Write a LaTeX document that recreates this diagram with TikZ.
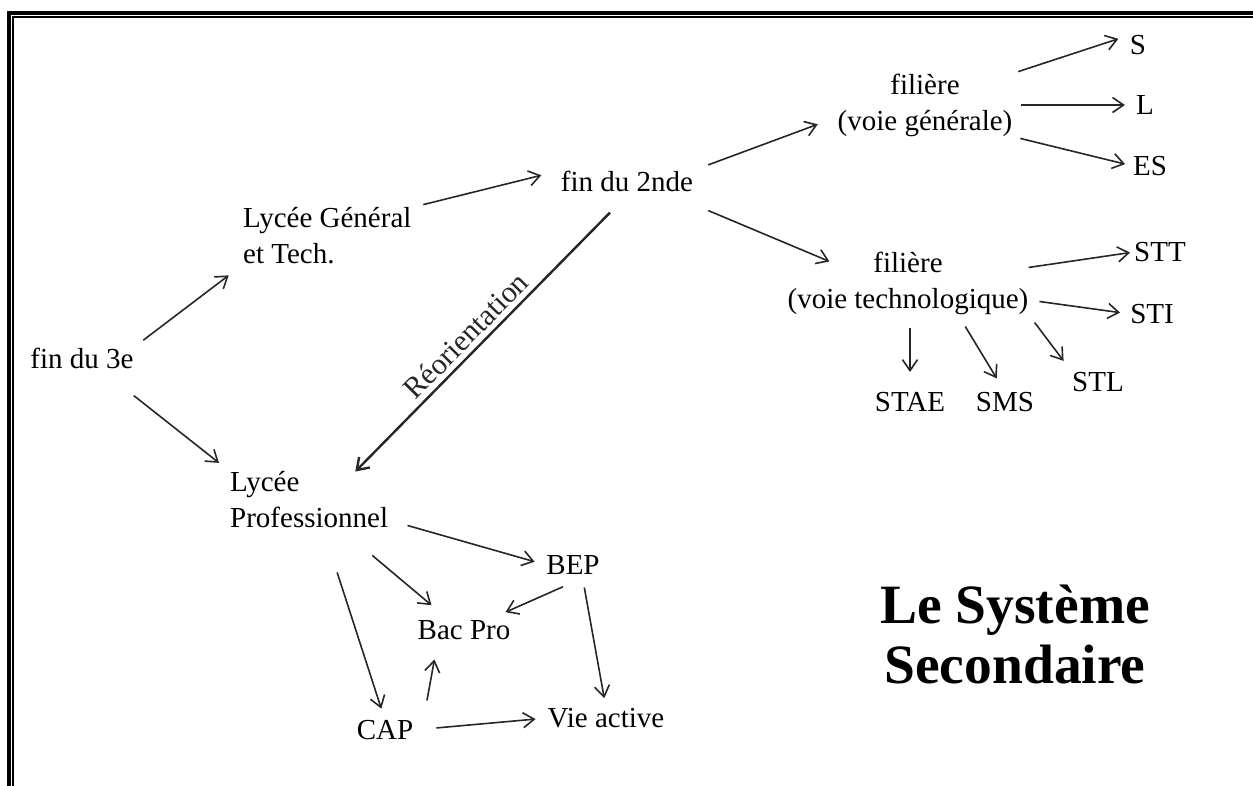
\documentclass[tikz,border=0pt]{standalone}
\usepackage{fontspec}
\setmainfont{Liberation Serif}
\usepackage{tikz}
\usetikzlibrary{positioning,arrows.meta}

\begin{document}
\begin{tikzpicture}[x=1pt,y=1pt,
    txt/.style={inner sep=0pt,font=\fontsize{29}{36}\selectfont},
    arr/.style={-{Straight Barb[length=11pt,width=15pt]},line width=1.6pt,black!85},
    reo/.style={arr,line width=2.4pt}]
  \useasboundingbox (0,0) rectangle (1253,-786);
  % frame (left and top only)
  \fill (7,-11) rectangle (11,-786);
  \fill (7,-11) rectangle (1253,-15);
  \draw[line width=1.6pt] (13.1,-786) |- (1253,-16.8);
  % left part
  \node[txt] (trois) at (82,-358) {fin du 3e};
  \node[txt,anchor=west,align=left] (lgt) at (243,-236) {Lycée Général\\et Tech.};
  \node[txt,anchor=west,align=left] (lp) at (230,-500) {Lycée\\Professionnel};
  \node[txt] (deux) at (627,-181) {fin du 2nde};
  % filieres
  \node[txt,align=center] (gen) at (925,-105) {filière\\(voie générale)};
  \node[txt] (S) at (1138,-45) {S};
  \node[txt] (L) at (1145,-105) {L};
  \node[txt] (ES) at (1150,-166) {ES};
  \node[txt,align=center] (tech) at (908,-283) {filière\\(voie technologique)};
  \node[txt] (STT) at (1160,-252) {STT};
  \node[txt] (STI) at (1152,-314) {STI};
  \node[txt] (STAE) at (910,-402) {STAE};
  \node[txt] (SMS) at (1005,-402) {SMS};
  \node[txt] (STL) at (1098,-382) {STL};
  % voie pro
  \node[txt] (bep) at (573,-565) {BEP};
  \node[txt] (bac) at (464,-630) {Bac Pro};
  \node[txt] (cap) at (385,-730) {CAP};
  \node[txt] (vie) at (606,-718) {Vie active};
  % title
  \node[inner sep=0pt,align=center,font=\fontsize{55.5}{60}\selectfont\bfseries] (titre) at (1015,-634) {Le Système\\Secondaire};
  % arrows
  \draw[arr,shorten <=12pt,shorten >=18pt] (trois.north east) -- (lgt.south west);
  \draw[arr,shorten >=14pt] ([yshift=-27pt]trois.south east) -- (lp.north west);
  \draw[arr,shorten <=12pt,shorten >=20pt] (lgt.north east) -- (deux.north west);
  \draw[reo] ([shift={(-17,-21)}]deux.south) -- node[sloped,above,pos=0.52,inner sep=5pt,font=\fontsize{30}{36}\selectfont] {Réorientation} ([xshift=-33pt]lp.north east);
  \draw[arr,shorten <=16pt,shorten >=21pt] (deux.north east) -- ([yshift=-12pt]gen.west);
  \draw[arr] ([shift={(15,-19)}]deux.south east) -- ([shift={(42,-10)}]tech.north west);
  \draw[arr,shorten <=6pt,shorten >=12pt] (gen.north east) -- (S.north west);
  \draw[arr,shorten <=8pt,shorten >=11pt] (gen.east) -- (L.west);
  \draw[arr,shorten <=8pt,shorten >=8pt] (gen.south east) -- (ES.west);
  \draw[arr,shorten >=4pt] ([yshift=-16pt]tech.north east) -- (STT.west);
  \draw[arr,shorten <=11pt,shorten >=10pt] ([yshift=-17pt]tech.east) -- (STI.west);
  \draw[arr,shorten <=13pt,shorten >=20pt] (STAE.north |- tech.south) -- (STAE.north);
  \draw[arr,shorten <=14pt,shorten >=16pt] ([xshift=50pt]tech.south) -- (SMS.north);
  \draw[arr,shorten <=10pt,shorten >=14pt] (tech.south east) -- (STL.north west);
  \draw[arr,shorten <=20pt,shorten >=12pt] ([yshift=-20pt]lp.east) -- (bep.west);
  \draw[arr] ([shift={(-16,-27)}]lp.south east) -- ([shift={(14,15)}]bac.north west);
  \draw[arr,shorten >=12pt] ([shift={(28,-44)}]lp.south) -- (cap.north);
  \draw[arr] ([shift={(-10,-12)}]bep.south) -- ([shift={(-5,8)}]bac.north east);
  \draw[arr,shorten <=13pt,shorten >=10pt] ([xshift=9pt]bep.south) -- (vie.north);
  \draw[arr,shorten <=20pt,shorten >=20pt] ([xshift=10pt]cap.north east) -- ([xshift=-26pt]bac.south);
  \draw[arr,shorten <=23pt,shorten >=12pt] (cap.east) -- (vie.west);
\end{tikzpicture}
\end{document}
